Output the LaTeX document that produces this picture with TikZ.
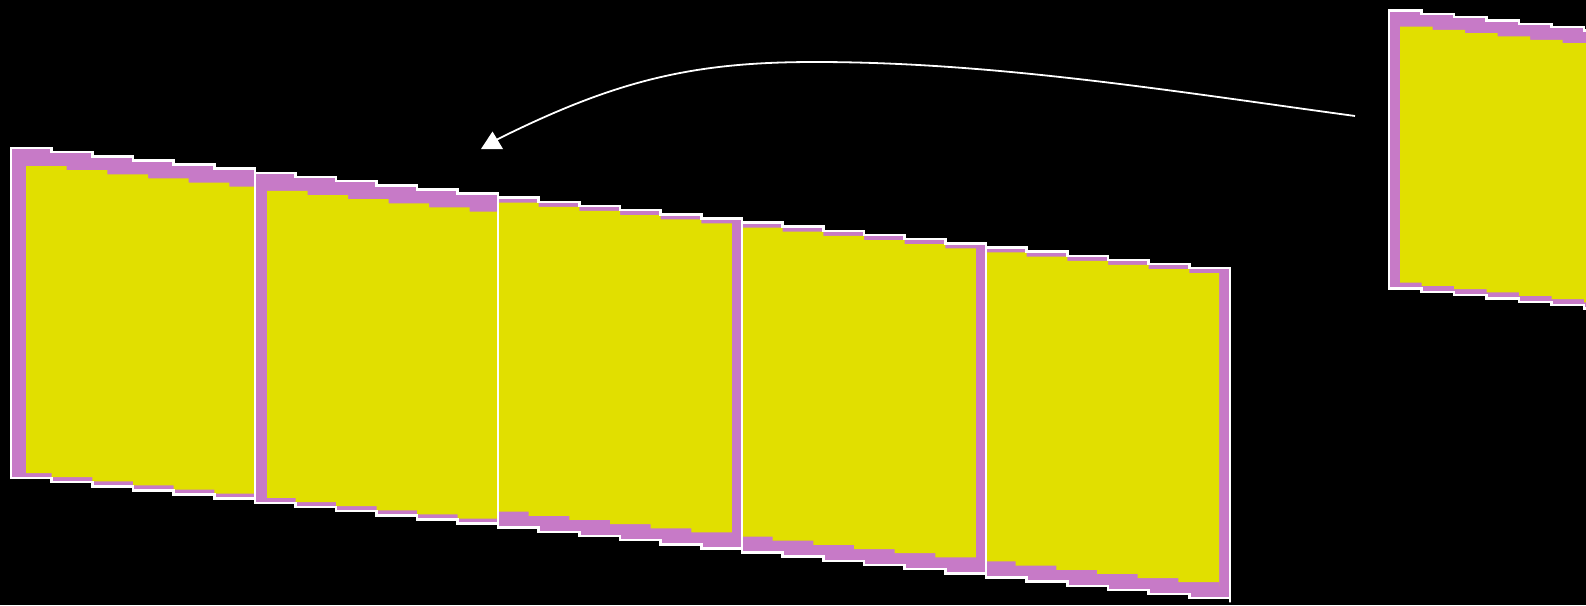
\documentclass[tikz,border=0pt]{standalone}
\usepackage{tikz}

\definecolor{panelyellow}{RGB}{225,223,0}
\definecolor{panelpink}{RGB}{199,122,199}

% stepped panel: left x, right x, top y, height, steps, then yellow insets left/top/right/bottom
\newcommand{\panel}[9]{%
  \pgfmathsetmacro\stepw{(#2-#1)/#5}%
  \pgfmathsetmacro\steph{0.102*\stepw}%
  \fill[panelpink] (#1,#3) \foreach \k in {1,...,#5} { -- ++(\stepw,0) -- ++(0,\steph) }
    -- ++(0,#4) \foreach \k in {1,...,#5} { -- ++(0,-\steph) -- ++(-\stepw,0) } -- cycle;
  \begin{scope}
    \clip (#1+#6,0) rectangle (#2-#8,700);
    \clip (#1+#6,#3+#7) \foreach \k in {1,...,#5} { -- ++(\stepw,0) -- ++(0,\steph) }
      -- ++(0,700) -- (#1+#6,#3+#7+700) -- cycle;
    \clip (#1-#8,#3+#4-#9) \foreach \k in {1,...,#5} { -- ++(\stepw,0) -- ++(0,\steph) }
      -- ++(0,-800) -- (#1-#8,#3+#4-#9-800) -- cycle;
    \fill[panelyellow] (#1,0) rectangle (#2,700);
  \end{scope}
  \draw[rim] (#1,#3) \foreach \k in {1,...,#5} { -- ++(\stepw,0) -- ++(0,\steph) }
    -- ++(0,#4) \foreach \k in {1,...,#5} { -- ++(0,-\steph) -- ++(-\stepw,0) } -- cycle;}

\begin{document}
\begin{tikzpicture}[x=1pt, y=-1pt,
  rim/.style={white, line width=2.5pt},
  arrowline/.style={white, line width=1.8pt}]
  \fill[black] (0,0) rectangle (1586,605);
  \useasboundingbox (0,0) rectangle (1586,605);
  \clip (0,0) rectangle (1586,605);
  % strip of five panels, top edge y = 148 + 0.102 (x - 11), height 330
  \foreach \xa/\xb/\il/\it/\ir/\ib in {11/255/15/18/0/5, 255/498/12/18/0/5,
      498/742/0/5/10/16, 742/986/0/5/10/16, 986/1230/0/5/11/16} {
    \pgfmathsetmacro\topa{148+0.102*(\xa-11)}
    \panel{\xa}{\xb}{\topa}{330}{6}{\il}{\it}{\ir}{\ib}
  }
  % next panel, cut by the right edge
  \panel{1389}{1616.5}{10.5}{278}{7}{11}{16}{0}{6}
  % arrow back to the strip
  \coordinate (arrowstart) at (1355,116);
  \coordinate (arrowpeak) at (815,62);
  \coordinate (arrowtip) at (496,140);
  \draw[arrowline] (arrowstart) .. controls (1175,91.5) and (995,62) .. (arrowpeak)
    .. controls (695,62) and (618,79) .. (arrowtip);
  \fill[white] (481,149) -- (503,149) -- (492.5,131.5) -- cycle;
\end{tikzpicture}
\end{document}
